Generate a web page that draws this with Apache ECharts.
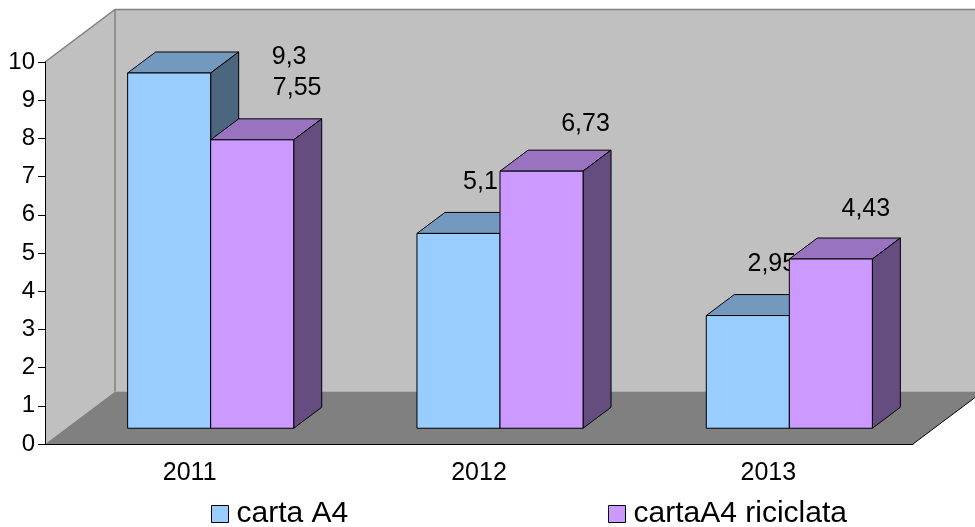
<!DOCTYPE html>
<html><head><meta charset="utf-8">
<script src="https://cdn.jsdelivr.net/npm/echarts@6/dist/echarts.min.js"></script>
<style>html,body{margin:0;padding:0;background:#fff}#c{width:975px;height:527px}</style>
</head><body><div id="c"></div>
<script>
// ---- data ----
const categories = ['2011', '2012', '2013'];
const cartaA4 = [9.3, 5.1, 2.95];
const cartaA4Riciclata = [7.55, 6.73, 4.43];
const seriesNames = ['carta A4', 'cartaA4 riciclata'];
const yMin = 0, yMax = 10, yStep = 1;

// ---- layout / style ----
const DX = 70, DY = 52.5;            // 3D depth offset of the plot box
const BAR_FRONT = 0.3, BAR_DEPTH = 0.4;
const BAR_FRAC = 0.287;              // bar width as fraction of category width
const FONT = "'Liberation Sans', Arial, sans-serif";
const LABEL_OFFSETS = [
  [[120, -16], [22, -51], [24, -51]],
  [[45, -52], [44, -47], [35, -50]]
];
const COLORS = [
  {front: '#99ccff', top: '#7399bf', side: '#4d6680'},
  {front: '#cc99ff', top: '#9973bf', side: '#664d80'}
];

function barSeries(s, values) {
  return {
    type: 'custom', name: seriesNames[s], coordinateSystem: 'cartesian2d',
    itemStyle: {color: COLORS[s].front, borderColor: '#000', borderWidth: 1},
    encode: {x: 0, y: 1},
    data: values.map((v, i) => [i, v]),
    z: 3,
    renderItem(params, api) {
      const i = api.value(0), v = api.value(1);
      const base = api.coord([i, 0]), top = api.coord([i, v]);
      const catW = api.size([1, 0])[0];
      const bw = catW * BAR_FRAC;
      const fx = BAR_FRONT * DX, fy = BAR_FRONT * DY, dx = BAR_DEPTH * DX, dy = BAR_DEPTH * DY;
      const x0 = base[0] + fx + (s === 0 ? -bw : 0);
      const x1 = x0 + bw;
      const yT = top[1] - fy, yB = base[1] - fy;
      const st = {stroke: '#000', lineWidth: 1};
      const off = LABEL_OFFSETS[s][params.dataIndex];
      return {type: 'group', children: [
        {type: 'polygon', shape: {points: [[x0, yT], [x1, yT], [x1 + dx, yT - dy], [x0 + dx, yT - dy]]}, style: Object.assign({fill: COLORS[s].top}, st)},
        {type: 'polygon', shape: {points: [[x1, yT], [x1 + dx, yT - dy], [x1 + dx, yB - dy], [x1, yB]]}, style: Object.assign({fill: COLORS[s].side}, st)},
        {type: 'rect', shape: {x: x0, y: yT, width: bw, height: yB - yT}, style: Object.assign({fill: COLORS[s].front}, st)},
        {type: 'text', x: (x0 + x1) / 2 + off[0], y: yT + off[1],
          style: {text: String(v).replace('.', ','), font: '25px ' + FONT, fill: '#000', align: 'center', verticalAlign: 'middle'}}
      ]};
    }
  };
}

const wallSeries = {
  type: 'custom', coordinateSystem: 'cartesian2d', silent: true, z: 1,
  data: [[0, 0]],
  renderItem(params) {
    const cs = params.coordSys;
    const L = cs.x, T = cs.y, R = cs.x + cs.width, B = cs.y + cs.height;
    const gray = '#808080';
    return {type: 'group', children: [
      {type: 'polygon', shape: {points: [[L + DX, T - DY], [R + DX, T - DY], [R + DX, B - DY], [L + DX, B - DY]]}, style: {fill: '#c0c0c0'}},
      {type: 'polygon', shape: {points: [[L, T], [L + DX, T - DY], [L + DX, B - DY], [L, B]]}, style: {fill: '#c0c0c0'}},
      {type: 'polygon', shape: {points: [[L, B], [L + DX, B - DY], [R + DX, B - DY], [R, B]]}, style: {fill: gray}},
      {type: 'polyline', shape: {points: [[L, T], [L + DX, T - DY], [R + DX, T - DY]]}, style: {stroke: gray, lineWidth: 1.5, fill: null}},
      {type: 'line', shape: {x1: L + DX, y1: T - DY, x2: L + DX, y2: B - DY}, style: {stroke: gray, lineWidth: 1.5}},
      {type: 'line', shape: {x1: R, y1: B, x2: R + DX, y2: B - DY}, style: {stroke: '#000', lineWidth: 1}}
    ]};
  }
};

const legendBase = {
  padding: 0, itemWidth: 17, itemHeight: 17, icon: 'rect', top: 499, height: 32,
  itemStyle: {borderColor: '#000', borderWidth: 1},
  textStyle: {fontSize: 30, fontFamily: FONT, color: '#000', padding: [0, 0, 0, 3]}
};

const chart = echarts.init(document.getElementById('c'), null, {renderer: 'canvas'});
chart.setOption({
  animation: false,
  backgroundColor: '#fff',
  grid: {left: 45, top: 62, width: 868, height: 382, containLabel: false},
  xAxis: {
    type: 'category', data: categories, z: 10,
    axisLine: {lineStyle: {color: '#000', width: 1}},
    axisTick: {length: 7, lineStyle: {color: '#000'}},
    axisLabel: {fontSize: 25, fontFamily: FONT, color: '#000', margin: 17}
  },
  yAxis: {
    type: 'value', min: yMin, max: yMax, interval: yStep, z: 10,
    axisLine: {show: true, lineStyle: {color: '#000', width: 1}},
    axisTick: {show: true, length: 7, lineStyle: {color: '#000'}},
    splitLine: {show: false},
    axisLabel: {fontSize: 24, fontFamily: FONT, color: '#000', margin: 10}
  },
  legend: [
    Object.assign({data: [seriesNames[0]], left: 211}, legendBase),
    Object.assign({data: [seriesNames[1]], left: 608}, legendBase)
  ],
  series: [wallSeries, barSeries(0, cartaA4), barSeries(1, cartaA4Riciclata)]
});
</script>
</body></html>
